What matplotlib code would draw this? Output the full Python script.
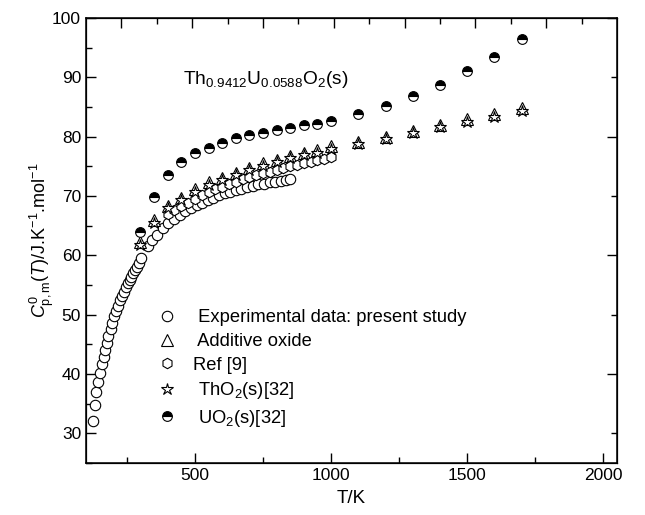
import numpy as np
import matplotlib
matplotlib.use("Agg")
import matplotlib.pyplot as plt
from matplotlib.ticker import MultipleLocator, NullFormatter

plt.rcParams["font.family"] = ["Liberation Sans", "DejaVu Sans"]
plt.rcParams["mathtext.fontset"] = "custom"
plt.rcParams["mathtext.rm"] = "Liberation Sans"
plt.rcParams["mathtext.it"] = "Liberation Sans:italic"

# experimental data (present study)
exp_T = [126, 133, 138, 145, 152, 157, 165, 171, 177, 182, 191, 196, 203, 212,
         218, 225, 232, 239, 247, 253, 260, 267, 274, 280, 286, 294, 302,
         326, 344, 361, 383, 403, 424, 444, 465, 485, 506, 526, 547, 567, 587,
         609, 630, 650, 670, 691, 712, 732, 752, 774, 795, 815, 835, 848]
exp_C = [32.1, 34.8, 36.9, 38.7, 40.2, 41.7, 42.9, 44.0, 45.2, 46.4, 47.6, 48.6,
         49.7, 50.6, 51.5, 52.4, 53.2, 53.9, 54.6, 55.3, 55.8, 56.4, 57.0, 57.5,
         58.1, 58.7, 59.5,
         61.5, 62.6, 63.5, 64.6, 65.4, 66.1, 66.8, 67.5, 68.0, 68.5, 68.9, 69.3,
         69.7, 70.1, 70.5, 70.7, 71.0, 71.2, 71.5, 71.7, 72.0, 72.1, 72.3, 72.4,
         72.6, 72.7, 72.8]

# temperatures used for the reference curves
ref_T = [300, 350, 400, 450, 500, 550, 600, 650, 700, 750, 800, 850, 900, 950,
         1000, 1100, 1200, 1300, 1400, 1500, 1600, 1700]
add_C = [62.2, 65.9, 68.3, 69.7, 71.1, 72.3, 73.1, 73.9, 74.8, 75.5, 76.1, 76.8,
         77.3, 77.7, 78.4, 79.1, 80.0, 81.0, 82.0, 82.9, 83.8, 84.8]
tho2_C = [61.7, 65.5, 67.9, 69.3, 70.7, 71.9, 72.7, 73.5, 74.4, 75.1, 75.7, 76.4,
          76.9, 77.3, 78.0, 78.7, 79.6, 80.6, 81.6, 82.5, 83.4, 84.4]
uo2_C = [64.0, 69.8, 73.5, 75.7, 77.3, 78.1, 79.0, 79.7, 80.3, 80.7, 81.1, 81.5,
         81.9, 82.2, 82.7, 83.8, 85.2, 86.8, 88.7, 91.0, 93.5, 96.4]

# Ref [9]
ref9_T = [400, 425, 450, 475, 500, 525, 550, 575, 600, 625, 650, 675, 700, 725,
          750, 775, 800, 825, 850, 875, 900, 925, 950, 975, 1000]
ref9_C = [66.9, 67.6, 68.3, 68.9, 69.5, 70.1, 70.6, 71.1, 71.6, 72.0, 72.4, 72.8,
          73.2, 73.5, 73.8, 74.1, 74.4, 74.7, 75.0, 75.3, 75.6, 75.8, 76.0, 76.3,
          76.5]

fig = plt.figure(figsize=(6.45, 5.15), dpi=100)
ax = fig.add_axes([0.1333, 0.101, 0.8233, 0.864])

mk = dict(linestyle="none", markeredgecolor="black", markeredgewidth=0.8)
l1, = ax.plot(exp_T, exp_C, "o", ms=7.5, mfc="white",
              label=" Experimental data: present study", **mk)
l2, = ax.plot(ref_T, add_C, "^", ms=8, mfc="white", label=" Additive oxide", **mk)
l3, = ax.plot(ref9_T, ref9_C, "h", ms=7.5, mfc="white", label="Ref [9]", **mk)
l4, = ax.plot(ref_T, tho2_C, "*", ms=9, mfc="white",
              label=" ThO$_2$(s)[32]", **mk)
l5, = ax.plot(ref_T, uo2_C, "o", ms=7, fillstyle="top", mfc="black",
              mfcalt="white", label=" UO$_2$(s)[32]", **mk)

ax.set_xlim(100, 2050)
ax.set_ylim(25, 100)
ax.xaxis.set_major_locator(MultipleLocator(500))
ax.xaxis.set_minor_locator(MultipleLocator(250))
ax.yaxis.set_major_locator(MultipleLocator(10))
ax.yaxis.set_minor_locator(MultipleLocator(5))
ax.tick_params(which="both", direction="in", labelsize=12.5, width=1)
ax.tick_params(which="major", length=7)
ax.tick_params(which="minor", length=4)
for s in ax.spines.values():
    s.set_linewidth(1.1)

# mirrored ticks on top and right
top = ax.twiny()
top.set_xlim(0, 15)
top.set_xticks([1, 3, 5, 7, 9, 11, 13])
top.set_xticks([2, 4, 6, 8, 10, 12, 14], minor=True)
top.xaxis.set_major_formatter(NullFormatter())
top.tick_params(which="both", direction="in", width=1)
top.tick_params(which="major", length=7)
top.tick_params(which="minor", length=4)
right = ax.twinx()
right.set_ylim(25, 100)
right.set_yticks([40, 60, 80, 100])
right.set_yticks([30, 50, 70, 90], minor=True)
right.yaxis.set_major_formatter(NullFormatter())
right.tick_params(which="both", direction="in", width=1)
right.tick_params(which="major", length=7)
right.tick_params(which="minor", length=4)

ax.set_xlabel("T/K", fontsize=13.5, labelpad=5)
ax.set_ylabel(r"$C^{0}_{\mathrm{p,m}}(T)$/J.K$^{-1}$.mol$^{-1}$", fontsize=13,
              labelpad=-2.5)

ax.text(457, 88.9, r"Th$_{0.9412}$U$_{0.0588}$O$_2$(s)", fontsize=13.8,
        ha="left", va="baseline")

ax.legend(handles=[l1, l2, l3, l4, l5], loc="lower left",
          bbox_to_anchor=(0.136, 0.077), frameon=False, fontsize=13.2,
          handlelength=1.0, handletextpad=0.9, labelspacing=0.36,
          borderaxespad=0, borderpad=0)

fig.savefig("out.png", dpi=100)
